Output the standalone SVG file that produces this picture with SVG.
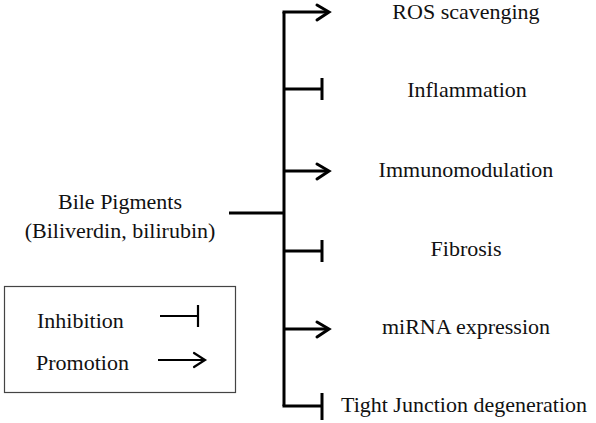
<svg xmlns="http://www.w3.org/2000/svg" width="596" height="423" viewBox="0 0 596 423">
<style>
  .t { font-family: 'Liberation Serif', 'Times New Roman', 'DejaVu Serif', serif; font-size: 22px; fill: #111; }
  .lbl { text-anchor: middle; }
  .ln { stroke: #000; stroke-width: 3; fill: none; }
  .head { stroke: #000; stroke-width: 3; fill: none; stroke-linecap: round; stroke-linejoin: miter; }
  .leg { stroke: #000; stroke-width: 2.2; fill: none; }
  .box { stroke: #444; stroke-width: 1.2; fill: #fff; }
</style>
<rect width="596" height="423" fill="#fff"/>
<g id="connectors">
  <path class="ln" d="M229,213 H284"/>
  <path class="ln" d="M284,12 V406"/>
  <path class="ln" d="M282.5,12 H328"/>
  <path class="head" d="M317,5 L329,12 L317,20"/>
  <path class="ln" d="M284,89 H322"/>
  <path class="ln" d="M322,78 V100"/>
  <path class="ln" d="M284,171 H328"/>
  <path class="head" d="M317,164 L329,171 L317,179"/>
  <path class="ln" d="M284,251 H322"/>
  <path class="ln" d="M322,240 V262"/>
  <path class="ln" d="M284,329 H328"/>
  <path class="head" d="M317,322 L329,329 L317,337"/>
  <path class="ln" d="M282.5,406 H322"/>
  <path class="ln" d="M322,393 V420"/>
</g>
<g id="source">
  <text class="t lbl" x="120" y="209">Bile Pigments</text>
  <text class="t lbl" x="120" y="238">(Biliverdin, bilirubin)</text>
</g>
<g id="ros"><text class="t lbl" x="466" y="19">ROS scavenging</text></g>
<g id="inflammation"><text class="t lbl" x="467" y="97">Inflammation</text></g>
<g id="immunomodulation"><text class="t lbl" x="466" y="177">Immunomodulation</text></g>
<g id="fibrosis"><text class="t lbl" x="466" y="256">Fibrosis</text></g>
<g id="mirna"><text class="t lbl" x="466" y="334">miRNA expression</text></g>
<g id="tight"><text class="t lbl" x="464" y="412">Tight Junction degeneration</text></g>
<g id="legend">
  <rect class="box" x="4.5" y="286.5" width="231" height="106"/>
  <text class="t" x="37" y="328">Inhibition</text>
  <path class="leg" d="M160,316 H198"/>
  <path class="leg" d="M198,305 V327"/>
  <text class="t" x="36" y="370">Promotion</text>
  <path class="leg" d="M158,360 H204"/>
  <path class="leg" d="M194,353 L205,360 L194,367" stroke-linecap="round"/>
</g>
</svg>
